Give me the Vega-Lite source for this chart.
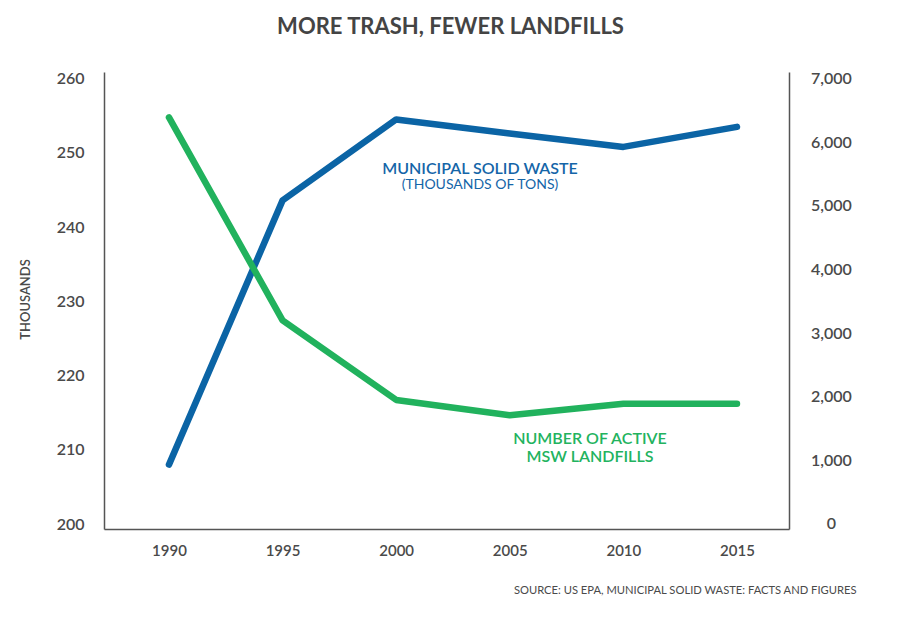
{
  "$schema": "https://vega.github.io/schema/vega-lite/v6.json",
  "width": 685,
  "height": 457,
  "autosize": {"type": "none"},
  "padding": {"left": 104, "top": 72, "right": 111, "bottom": 91},
  "background": "white",
  "title": {
    "text": "MORE TRASH, FEWER LANDFILLS",
    "font": "Lato",
    "fontSize": 22,
    "fontWeight": "bold",
    "color": "#444444",
    "frame": "group",
    "anchor": "middle",
    "baseline": "alphabetic",
    "offset": 15,
    "dx": 4
  },
  "config": {
    "view": {"stroke": null},
    "axis": {
      "grid": false,
      "ticks": false,
      "domainColor": "#555555",
      "domainWidth": 1.5,
      "labelFont": "Lato",
      "labelFontWeight": 600,
      "labelColor": "#4a4a4a",
      "titleFont": "Lato",
      "titleColor": "#4a4a4a"
    }
  },
  "datasets": {
    "msw": [
      {"year": 1990, "tons": 208.0},
      {"year": 1995, "tons": 243.6},
      {"year": 2000, "tons": 254.5},
      {"year": 2005, "tons": 252.6},
      {"year": 2010, "tons": 250.8},
      {"year": 2015, "tons": 253.5}
    ],
    "landfills": [
      {"year": 1990, "count": 6390},
      {"year": 1995, "count": 3200},
      {"year": 2000, "count": 1950},
      {"year": 2005, "count": 1710},
      {"year": 2010, "count": 1890},
      {"year": 2015, "count": 1890}
    ],
    "notes": [
      {"year": 2003.69, "pos": 247.86, "label": "MUNICIPAL SOLID WASTE", "kind": "blue1"},
      {"year": 2003.69, "pos": 245.67, "label": "(THOUSANDS OF TONS)", "kind": "blue2"},
      {"year": 2008.53, "pos": 211.40, "label": "NUMBER OF ACTIVE", "kind": "green"},
      {"year": 2008.53, "pos": 209.05, "label": "MSW LANDFILLS", "kind": "green"}
    ]
  },
  "encoding": {
    "x": {
      "field": "year",
      "type": "quantitative",
      "scale": {"domain": [1987.14, 2017.29], "nice": false, "zero": false},
      "axis": {
        "values": [1990, 1995, 2000, 2005, 2010, 2015],
        "format": "d",
        "labelFontSize": 15,
        "labelPadding": 14,
        "title": "SOURCE: US EPA, MUNICIPAL SOLID WASTE: FACTS AND FIGURES",
        "titleFontSize": 11.2,
        "titleFontWeight": "normal",
        "titleAlign": "right",
        "titleAnchor": null,
        "titleX": 752,
        "titleY": 61,
        "titleBaseline": "middle"
      }
    }
  },
  "layer": [
    {
      "data": {"name": "msw"},
      "mark": {"type": "line", "color": "#0b64a5", "strokeWidth": 6.5, "strokeCap": "round", "strokeJoin": "round"},
      "encoding": {
        "y": {
          "field": "tons",
          "type": "quantitative",
          "scale": {"domain": [199.33, 260.89], "nice": false, "zero": false},
          "axis": {
            "orient": "left",
            "values": [200, 210, 220, 230, 240, 250, 260],
            "labelFontSize": 16,
            "labelPadding": 20,
            "title": "THOUSANDS",
            "titleFontSize": 13,
            "titleFontWeight": 600,
            "titleAngle": -90,
            "titleX": -79,
            "titleY": 227,
            "titleAlign": "center",
            "titleBaseline": "middle"
          }
        }
      }
    },
    {
      "data": {"name": "landfills"},
      "mark": {"type": "line", "color": "#21b25d", "strokeWidth": 6.5, "strokeCap": "round", "strokeJoin": "round"},
      "encoding": {
        "y": {
          "field": "count",
          "type": "quantitative",
          "scale": {"domain": [-79, 7104], "nice": false, "zero": false},
          "axis": {
            "orient": "right",
            "values": [0, 1000, 2000, 3000, 4000, 5000, 6000, 7000],
            "format": ",d",
            "labelFontSize": 16,
            "labelAlign": "center",
            "labelPadding": 42,
            "title": null
          }
        }
      }
    },
    {
      "data": {"name": "notes"},
      "transform": [{"filter": "datum.kind === 'blue1'"}],
      "mark": {"type": "text", "font": "Lato", "fontSize": 16, "fontWeight": 600, "color": "#1465a8", "align": "center", "baseline": "middle"},
      "encoding": {
        "y": {"field": "pos", "type": "quantitative", "scale": {"domain": [199.33, 260.89], "nice": false, "zero": false}, "axis": null},
        "text": {"field": "label"}
      }
    },
    {
      "data": {"name": "notes"},
      "transform": [{"filter": "datum.kind === 'blue2'"}],
      "mark": {"type": "text", "font": "Lato", "fontSize": 14, "fontWeight": "normal", "color": "#1465a8", "align": "center", "baseline": "middle"},
      "encoding": {
        "y": {"field": "pos", "type": "quantitative", "scale": {"domain": [199.33, 260.89], "nice": false, "zero": false}, "axis": null},
        "text": {"field": "label"}
      }
    },
    {
      "data": {"name": "notes"},
      "transform": [{"filter": "datum.kind === 'green'"}],
      "mark": {"type": "text", "font": "Lato", "fontSize": 16, "fontWeight": 600, "color": "#22b35e", "align": "center", "baseline": "middle"},
      "encoding": {
        "y": {"field": "pos", "type": "quantitative", "scale": {"domain": [199.33, 260.89], "nice": false, "zero": false}, "axis": null},
        "text": {"field": "label"}
      }
    }
  ],
  "resolve": {"scale": {"y": "independent"}}
}
